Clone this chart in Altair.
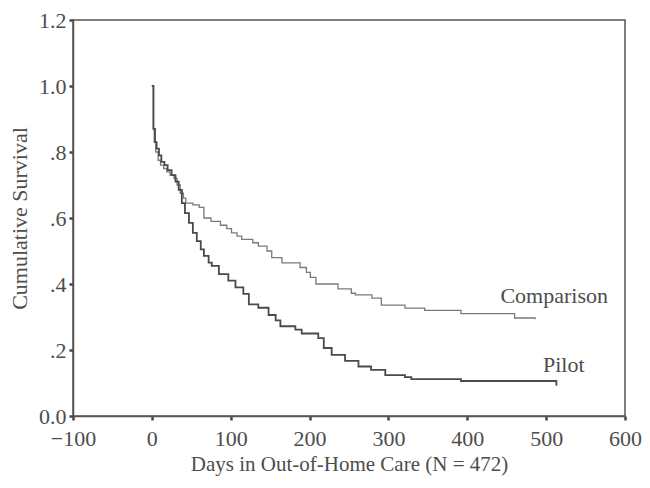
import altair as alt
import pandas as pd

# Kaplan-Meier step points
comp_days = [0, 2, 3, 5, 8, 11, 15, 19, 23, 28, 32, 36, 40, 43, 52, 60, 66, 75, 87, 95,
             101, 108, 114, 128, 135, 146, 152, 165, 188, 196, 201, 208, 236, 253, 258,
             279, 291, 321, 346, 392, 460, 486]
comp_surv = [1.0, 0.87, 0.83, 0.80, 0.775, 0.76, 0.75, 0.74, 0.73, 0.72, 0.70, 0.675, 0.66,
             0.645, 0.64, 0.632, 0.60, 0.59, 0.578, 0.568, 0.555, 0.545, 0.535, 0.525, 0.515,
             0.50, 0.48, 0.464, 0.45, 0.435, 0.42, 0.40, 0.385, 0.372, 0.367, 0.357, 0.336,
             0.327, 0.32, 0.31, 0.297, 0.293]

pilot_days = [0, 2, 4, 6, 9, 12, 16, 20, 25, 30, 34, 38, 42, 47, 52, 57, 62, 66, 72, 76,
              85, 97, 106, 116, 123, 135, 148, 157, 163, 182, 190, 211, 218, 228, 245, 262,
              278, 296, 321, 329, 392, 513]
pilot_surv = [1.0, 0.87, 0.83, 0.81, 0.79, 0.77, 0.76, 0.745, 0.73, 0.71, 0.685, 0.645,
              0.615, 0.585, 0.555, 0.53, 0.505, 0.485, 0.465, 0.455, 0.43, 0.41, 0.39, 0.37,
              0.338, 0.328, 0.306, 0.29, 0.272, 0.262, 0.25, 0.236, 0.206, 0.185, 0.167,
              0.15, 0.14, 0.124, 0.118, 0.112, 0.106, 0.092]

series_names = ["Comparison", "Pilot"]
series_colors = ["#7a7a7a", "#4a4a4a"]
series_widths = [1.3, 1.8]
label_days = [442, 496]
label_surv = [0.364, 0.155]

x_ticks = [-100, 0, 100, 200, 300, 400, 500, 600]
y_ticks = [0.0, 0.2, 0.4, 0.6, 0.8, 1.0, 1.2]

curves = pd.concat([
    pd.DataFrame({"day": comp_days, "surv": comp_surv, "group": series_names[0]}),
    pd.DataFrame({"day": pilot_days, "surv": pilot_surv, "group": series_names[1]}),
])
labels = pd.DataFrame({"day": label_days, "surv": label_surv, "group": series_names})

FONT = "Liberation Serif"
TXT = "#4d4d4d"

x_enc = alt.X("day:Q",
              scale=alt.Scale(domain=[-100, 600], nice=False, zero=False),
              axis=alt.Axis(values=x_ticks, title="Days in Out-of-Home Care (N = 472)",
                            grid=False, labelFlush=False, labelPadding=8, titlePadding=4,
                            titleFontSize=21))
y_enc = alt.Y("surv:Q",
              scale=alt.Scale(domain=[0, 1.2], nice=False),
              axis=alt.Axis(values=y_ticks, title="Cumulative Survival", grid=False,
                            labelFlush=False, labelPadding=3, titlePadding=7,
                            labelExpr="format(datum.value,'.1f') == '0.0' ? '0.0' : "
                                      "(datum.value < 0.99 ? replace(format(datum.value,'.1f'),'0.','.') "
                                      ": format(datum.value,'.1f'))"))

lines = alt.Chart(curves).mark_line(interpolate="step-after").encode(
    x=x_enc,
    y=y_enc,
    color=alt.Color("group:N", scale=alt.Scale(domain=series_names, range=series_colors), legend=None),
    strokeWidth=alt.StrokeWidth("group:N", scale=alt.Scale(domain=series_names, range=series_widths), legend=None),
)

text = alt.Chart(labels).mark_text(align="left", baseline="middle", font=FONT,
                                   fontSize=22, color=TXT).encode(
    x="day:Q", y="surv:Q", text="group:N"
)

chart = alt.layer(lines, text).properties(
    width=552, height=396,
    autosize=alt.AutoSizeParams(type="none"),
    padding={"left": 65, "top": 12, "right": 17, "bottom": 60},
).configure_view(
    stroke="#555555", strokeWidth=1.5
).configure_axis(
    domainColor="#555555", domainWidth=1.5,
    tickColor="#444444", tickSize=4, tickWidth=2.5,
    labelFont=FONT, labelFontSize=22, labelColor=TXT,
    titleFont=FONT, titleFontSize=22, titleColor=TXT, titleFontWeight="normal",
)

chart.save("out.html", embed_options={"renderer": "svg", "actions": False})
